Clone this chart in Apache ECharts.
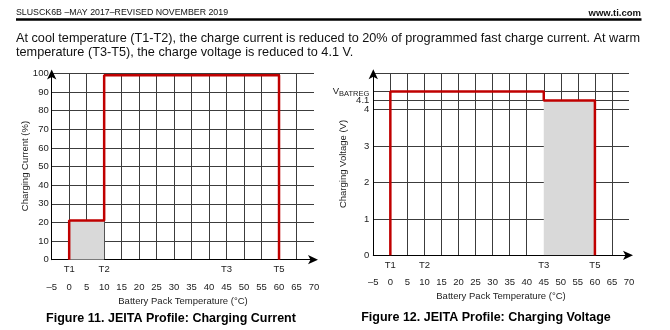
<!DOCTYPE html>
<html>
<head>
<meta charset="utf-8">
<script src="https://cdn.jsdelivr.net/npm/echarts@6/dist/echarts.min.js"></script>
<style>
html,body{margin:0;padding:0;background:#fff;}
#c{width:670px;height:330px;}
</style>
</head>
<body>
<div id="c"></div>
<script>
// ---- data ----
const tempMin = -5, tempMax = 70, tempStep = 5;
const tempGridValues = [0,5,10,15,20,25,30,35,40,45,50,55,60,65];
const tempLabelValues = [-5,0,5,10,15,20,25,30,35,40,45,50,55,60,65,70];
const tPointValues = [0, 10, 45, 60];
const tPointNames = ['T1', 'T2', 'T3', 'T5'];

const currentTicks = [0,10,20,30,40,50,60,70,80,90,100];
const currentProfile = [[0,0],[0,21],[10,21],[10,99],[60,99],[60,0]];
const currentReduced = [[0,21],[10,21]];

const voltTickValues = [0,1,2,3,4,4.25,4.5,5];
const voltTickLabels = ['0','1','2','3','4','4.1','VBATREG',''];
const voltageProfile = [[0,0],[0,4.5],[45,4.5],[45,4.25],[60,4.25],[60,0]];
const voltageReduced = [[45,4.25],[60,4.25]];

const headerLeft = 'SLUSCK6B \u2013MAY 2017\u2013REVISED NOVEMBER 2019';
const headerRight = 'www.ti.com';
const bodyLine1 = 'At cool temperature (T1-T2), the charge current is reduced to 20% of programmed fast charge current. At warm';
const bodyLine2 = 'temperature (T3-T5), the charge voltage is reduced to 4.1 V.';
const caption1 = 'Figure 11. JEITA Profile: Charging Current';
const caption2 = 'Figure 12. JEITA Profile: Charging Voltage';
const xTitle = 'Battery Pack Temperature (\u00B0C)';
const yTitle1 = 'Charging Current (%)';
const yTitle2 = 'Charging Voltage (V)';

// ---- styles ----
const FONT = '"Liberation Sans", Arial, sans-serif';
const RED = '#c00000';
const GRID = '#3c3c3c';
const GREY = '#d9d9d9';
const LABEL = '#222';

function tLabel(v){ const i = tPointValues.indexOf(v); return i >= 0 ? tPointNames[i] : ''; }
function numLabel(v){ return v < 0 ? '\u2013' + Math.abs(v) : String(v); }

function tAxis(gridIndex){
  return {
    type: 'value', gridIndex, position: 'bottom', offset: 0,
    min: tempMin, max: tempMax, interval: tempStep,
    axisLine: { show: true, onZero: false, symbol: ['none','arrow'], symbolSize: [7,10], symbolOffset: [0,4],
      lineStyle: { color: '#000', width: 1 } },
    axisTick: { show: false },
    splitLine: { show: false },
    axisLabel: { customValues: tPointValues, formatter: tLabel, margin: 5,
      fontFamily: FONT, fontSize: 9.5, color: LABEL }
  };
}
function numAxis(gridIndex, margin){
  return {
    type: 'value', gridIndex, position: 'bottom', offset: 0,
    min: tempMin, max: tempMax, interval: tempStep,
    axisLine: { show: false, onZero: false },
    axisTick: { show: false, customValues: tempGridValues },
    splitLine: { show: true, lineStyle: { color: GRID, width: 1 } },
    axisLabel: { customValues: tempLabelValues, formatter: numLabel, margin: margin,
      fontFamily: FONT, fontSize: 9.5, color: LABEL }
  };
}

const chart = echarts.init(document.getElementById('c'), null, { renderer: 'canvas' });

const option = {
  animation: false,
  backgroundColor: '#fff',
  grid: [
    { left: 51.7, right: 356, top: 73.5, height: 186.2 },
    { left: 373.3, right: 41, top: 73.3, height: 182 }
  ],
  xAxis: [ tAxis(0), numAxis(0, 23), tAxis(1), numAxis(1, 22) ],
  yAxis: [
    { type: 'value', gridIndex: 0, min: 0, max: 100, interval: 10,
      axisLine: { show: true, onZero: false, symbol: ['none','arrow'], symbolSize: [7,10], symbolOffset: [0,4],
        lineStyle: { color: '#000', width: 1 } },
      axisTick: { show: false },
      splitLine: { show: true, lineStyle: { color: GRID, width: 1 } },
      axisLabel: { customValues: currentTicks, margin: 3, fontFamily: FONT, fontSize: 9.5, color: LABEL } },
    { type: 'value', gridIndex: 1, min: 0, max: 5,
      axisLine: { show: true, onZero: false, symbol: ['none','arrow'], symbolSize: [7,10], symbolOffset: [0,4],
        lineStyle: { color: '#000', width: 1 } },
      axisTick: { show: false, customValues: voltTickValues },
      splitLine: { show: true, lineStyle: { color: GRID, width: 1 } },
      axisLabel: { customValues: voltTickValues, margin: 4, fontFamily: FONT, fontSize: 9.5, color: LABEL,
        formatter: function(v){
          const i = voltTickValues.indexOf(v);
          const s = i >= 0 ? voltTickLabels[i] : '';
          return s === 'VBATREG' ? '{v|V}{s|BATREG}' : s;
        },
        rich: { v: { fontFamily: FONT, fontSize: 9.5, color: LABEL },
                s: { fontFamily: FONT, fontSize: 7.5, color: LABEL, padding: [5,0,0,0] } } } }
  ],
  series: [
    { type: 'line', xAxisIndex: 0, yAxisIndex: 0, data: currentReduced, symbol: 'none',
      lineStyle: { width: 0 }, areaStyle: { color: GREY, opacity: 1 }, z: 2 },
    { type: 'line', xAxisIndex: 0, yAxisIndex: 0, data: currentProfile, symbol: 'none',
      lineStyle: { color: RED, width: 2.5 }, z: 3 },
    { type: 'line', xAxisIndex: 2, yAxisIndex: 1, data: voltageReduced, symbol: 'none',
      lineStyle: { width: 0 }, areaStyle: { color: GREY, opacity: 1 }, z: 2 },
    { type: 'line', xAxisIndex: 2, yAxisIndex: 1, data: voltageProfile, symbol: 'none',
      lineStyle: { color: RED, width: 2.5 }, z: 3 }
  ],
  graphic: [
    { type: 'text', left: 16, top: 8, style: { text: headerLeft, fontFamily: FONT, fontSize: 8.8, fill: '#111' } },
    { type: 'text', right: 29, top: 8, style: { text: headerRight, fontFamily: FONT, fontSize: 9.5, fontWeight: 'bold', fill: '#111' } },
    { type: 'rect', shape: { x: 16, y: 18.3, width: 625.5, height: 2.4 }, style: { fill: '#000' } },
    { type: 'text', left: 16, top: 32, style: { text: bodyLine1, fontFamily: FONT, fontSize: 12.7, fill: '#111' } },
    { type: 'text', left: 16, top: 46, style: { text: bodyLine2, fontFamily: FONT, fontSize: 12.7, fill: '#111' } },
    { type: 'text', x: 183, y: 301, style: { text: xTitle, fontFamily: FONT, fontSize: 9.5, fill: LABEL, align: 'center', verticalAlign: 'middle' } },
    { type: 'text', x: 501, y: 296, style: { text: xTitle, fontFamily: FONT, fontSize: 9.5, fill: LABEL, align: 'center', verticalAlign: 'middle' } },
    { type: 'text', x: 25, y: 166, rotation: Math.PI/2, style: { text: yTitle1, fontFamily: FONT, fontSize: 9.5, fill: LABEL, align: 'center', verticalAlign: 'middle' } },
    { type: 'text', x: 343.5, y: 164, rotation: Math.PI/2, style: { text: yTitle2, fontFamily: FONT, fontSize: 9.5, fill: LABEL, align: 'center', verticalAlign: 'middle' } },
    { type: 'text', x: 171, y: 319, style: { text: caption1, fontFamily: FONT, fontSize: 12.5, fontWeight: 'bold', fill: '#000', align: 'center', verticalAlign: 'middle' } },
    { type: 'text', x: 486, y: 318, style: { text: caption2, fontFamily: FONT, fontSize: 12.5, fontWeight: 'bold', fill: '#000', align: 'center', verticalAlign: 'middle' } }
  ]
};
chart.setOption(option);
</script>
</body>
</html>
